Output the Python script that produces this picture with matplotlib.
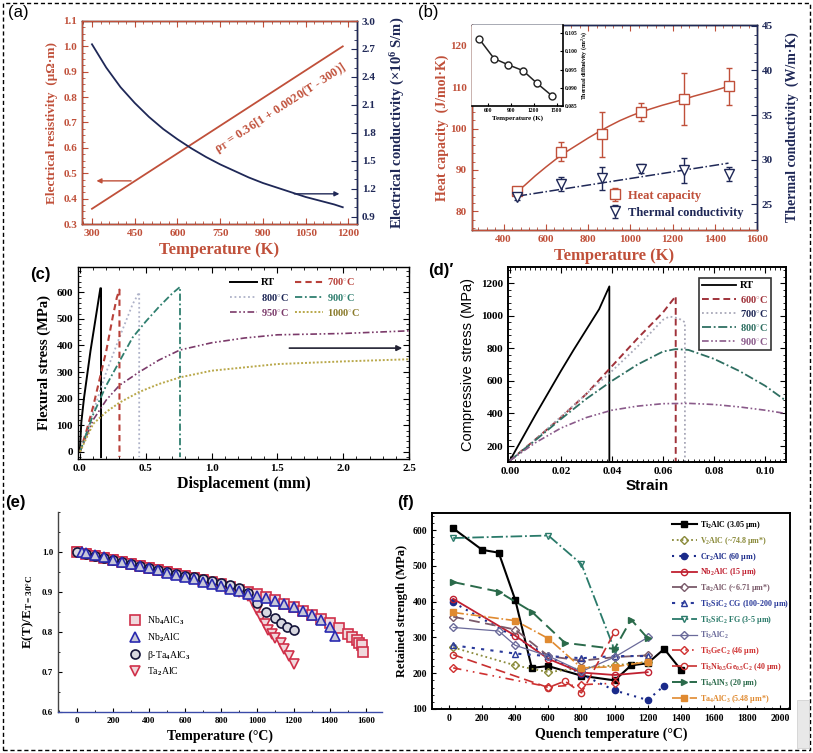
import matplotlib
matplotlib.use('Agg')
import matplotlib.pyplot as plt
from matplotlib.patches import Rectangle
from matplotlib.ticker import MultipleLocator
import warnings
warnings.filterwarnings('ignore')

W, H = 813, 753
RED = '#c0503a'
NAVY = '#1f2857'

# ---------------- data ----------------
# (a)
a_T_rho = [300, 1180]
a_rho = [0.36, 1.0]
a_T_sig = [300, 350, 400, 450, 500, 550, 600, 650, 700, 750, 800, 850, 900, 950,
           1000, 1050, 1100, 1150, 1180]
a_sig = [2.75, 2.50, 2.29, 2.12, 1.97, 1.84, 1.73, 1.63, 1.54, 1.46, 1.39, 1.32,
         1.26, 1.21, 1.16, 1.11, 1.07, 1.03, 1.00]
a_xticks = [300, 450, 600, 750, 900, 1050, 1200]

# (b)
b_T = [465, 670, 865, 1050, 1255, 1465]
b_cp = [84.8, 94.4, 98.6, 104.0, 107.2, 110.2]
b_cp_err = [0.6, 2.3, 5.4, 2.1, 6.3, 4.4]
b_fit_T = [465, 500, 550, 600, 650, 700, 750, 800, 850, 900, 950, 1000, 1050,
           1100, 1150, 1200, 1250, 1300, 1350, 1400, 1465]
b_fit_cp = [84.8, 86.3, 88.6, 90.7, 92.7, 94.5, 96.1, 97.7, 99.2, 100.6, 101.9,
            103.0, 104.0, 104.8, 105.6, 106.3, 107.0, 107.8, 108.5, 109.2, 110.2]
b_k = [25.8, 27.3, 27.9, 29.0, 28.8, 28.4]
b_k_err = [0.3, 0.8, 1.3, 0.5, 1.4, 0.8]
b_kfit_T = [465, 1465]
b_kfit = [25.9, 29.6]
b_in_T = [480, 680, 865, 1060, 1245, 1440]
b_in_D = [0.1035, 0.0980, 0.0963, 0.0947, 0.0912, 0.0878]
b_in_err = [0.0003, 0.0005, 0.0008, 0.0008, 0.0007, 0.0007]

# (c)
c_RT_x = [0, 0.01, 0.03, 0.08, 0.155, 0.16, 0.16]
c_RT_y = [10, 110, 200, 380, 615, 615, -20]
c_700_x = [0, 0.05, 0.1, 0.15, 0.2, 0.25, 0.28, 0.3, 0.3]
c_700_y = [0, 80, 170, 275, 380, 510, 580, 610, -20]
c_800_x = [0, 0.1, 0.2, 0.3, 0.4, 0.45, 0.45]
c_800_y = [0, 150, 300, 430, 555, 600, -20]
c_900_x = [0, 0.1, 0.2, 0.3, 0.4, 0.5, 0.6, 0.7, 0.76, 0.76]
c_900_y = [0, 140, 250, 340, 430, 490, 545, 595, 620, -20]
c_950_x = [0, 0.1, 0.2, 0.3, 0.45, 0.6, 0.76, 1.0, 1.25, 1.5, 2.0, 2.5]
c_950_y = [0, 120, 195, 250, 300, 345, 383, 410, 428, 440, 445, 455]
c_1000_x = [0, 0.1, 0.2, 0.3, 0.45, 0.6, 0.76, 1.0, 1.5, 2.0, 2.5]
c_1000_y = [0, 105, 150, 185, 225, 255, 280, 305, 330, 340, 348]

# (d)
d_RT_x = [0, 0.005, 0.01, 0.015, 0.02, 0.025, 0.03, 0.035, 0.039, 0.039]
d_RT_y = [110, 250, 390, 525, 660, 790, 915, 1040, 1180, 102]
d_600_x = [0, 0.01, 0.02, 0.03, 0.04, 0.05, 0.06, 0.065, 0.065]
d_600_y = [110, 240, 375, 520, 690, 860, 1020, 1120, 102]
d_700_x = [0, 0.01, 0.02, 0.03, 0.04, 0.05, 0.06, 0.0625, 0.066, 0.0686, 0.0686]
d_700_y = [110, 240, 380, 520, 660, 810, 975, 995, 985, 960, 102]
d_800_x = [0, 0.01, 0.02, 0.03, 0.04, 0.05, 0.06, 0.065, 0.07, 0.08, 0.09, 0.10, 0.108]
d_800_y = [110, 235, 365, 490, 600, 700, 780, 795, 790, 735, 660, 570, 480]
d_900_x = [0, 0.01, 0.02, 0.03, 0.04, 0.05, 0.06, 0.07, 0.08, 0.09, 0.10, 0.108]
d_900_y = [110, 220, 310, 375, 420, 445, 460, 462, 455, 440, 420, 400]

# (e)
e_nb4_T = [0, 50, 100, 150, 200, 250, 300, 350, 400, 450, 500, 550, 600, 650, 700,
           750, 800, 850, 900, 950, 1000, 1050, 1100, 1150, 1200, 1250, 1300, 1350,
           1400, 1450, 1500, 1525, 1550, 1565, 1580, 1585]
e_nb4_E = [1.000, 0.995, 0.990, 0.985, 0.980, 0.975, 0.970, 0.965, 0.960, 0.955,
           0.951, 0.946, 0.941, 0.936, 0.931, 0.925, 0.919, 0.913, 0.906, 0.900,
           0.894, 0.887, 0.879, 0.871, 0.862, 0.853, 0.843, 0.833, 0.822, 0.810,
           0.796, 0.788, 0.779, 0.772, 0.768, 0.751]
e_nb2_T = [30, 50, 100, 150, 200, 250, 300, 350, 400, 450, 500, 550, 600, 650, 700,
           750, 800, 850, 900, 950, 1000, 1050, 1100, 1150, 1200, 1250, 1300, 1350,
           1400, 1430]
e_nb2_E = [1.000, 0.997, 0.992, 0.987, 0.981, 0.976, 0.970, 0.965, 0.959, 0.954,
           0.948, 0.943, 0.937, 0.932, 0.926, 0.920, 0.914, 0.908, 0.902, 0.896,
           0.890, 0.884, 0.877, 0.870, 0.862, 0.853, 0.843, 0.830, 0.812, 0.790]
e_ta4_T = [0, 50, 100, 150, 200, 250, 300, 350, 400, 450, 500, 550, 600, 650, 700,
           750, 800, 850, 900, 950, 1000, 1050, 1100, 1130, 1165, 1200]
e_ta4_E = [1.000, 0.995, 0.990, 0.985, 0.980, 0.975, 0.970, 0.965, 0.960, 0.955,
           0.950, 0.945, 0.941, 0.937, 0.933, 0.928, 0.923, 0.917, 0.909, 0.898,
           0.872, 0.850, 0.836, 0.822, 0.813, 0.806]
e_ta2_T = [0, 50, 100, 150, 200, 250, 300, 350, 400, 450, 500, 550, 600, 650, 700,
           750, 800, 850, 900, 950, 975, 1000, 1020, 1040, 1060, 1080, 1100, 1130,
           1150, 1175, 1200]
e_ta2_E = [1.000, 0.995, 0.990, 0.985, 0.980, 0.975, 0.970, 0.965, 0.960, 0.955,
           0.950, 0.945, 0.940, 0.935, 0.929, 0.922, 0.915, 0.908, 0.900, 0.890,
           0.875, 0.856, 0.838, 0.820, 0.805, 0.795, 0.785, 0.772, 0.758, 0.740, 0.720]

# (f)
f_series = [
    ("Ti$_2$AlC (3.05 μm)", [25, 200, 300, 400, 500, 600, 800, 1000, 1100, 1200, 1300, 1400],
     [605, 545, 537, 405, 215, 220, 193, 180, 222, 228, 268, 210]),
    ("V$_2$AlC (~74.8 μm*)", [25, 400, 600, 800, 1000, 1200], [272, 222, 203, 215, 222, 232]),
    ("Cr$_2$AlC (60 μm)", [25, 800, 1000, 1200, 1300], [398, 197, 152, 125, 165]),
    ("Nb$_2$AlC (15 μm)", [25, 400, 600, 800, 1000, 1200], [408, 305, 240, 202, 195, 203]),
    ("Ta$_2$AlC (~6.71 μm*)", [25, 400, 600, 800, 1000, 1200], [358, 322, 248, 235, 245, 250]),
    ("Ti$_3$SiC$_2$ CG (100-200 μm)", [25, 400, 600, 800, 1000, 1200], [278, 255, 248, 242, 248, 248]),
    ("Ti$_3$SiC$_2$ FG (3-5 μm)", [25, 600, 800, 1000], [578, 585, 505, 265]),
    ("Ti$_3$AlC$_2$", [25, 300, 400, 600, 800, 1000, 1200], [328, 318, 278, 248, 205, 245, 300]),
    ("Ti$_3$GeC$_2$ (46 μm)", [25, 600, 800, 1000], [215, 162, 168, 172]),
    ("Ti$_3$Ni$_{0.5}$Ge$_{0.5}$C$_2$ (40 μm)", [25, 600, 700, 800, 1000], [252, 160, 178, 145, 315]),
    ("Ti$_4$AlN$_3$ (20 μm)", [25, 300, 500, 700, 1000, 1100, 1200], [455, 428, 372, 285, 268, 350, 298]),
    ("Ta$_4$AlC$_3$ (5.48 μm*)", [25, 400, 600, 800, 1000, 1200], [370, 347, 297, 215, 218, 232]),
]
f_styles = [
    dict(color='black', ls='-', marker='s', mfc='black', lw=1.5),
    dict(color='#8a8a3a', ls=':', marker='D', mfc='none', lw=1.3),
    dict(color='#1a2a8a', ls=(0, (1, 2.5)), marker='o', mfc='#1a2a8a', lw=1.5),
    dict(color='#c02030', ls='-', marker='o', mfc='none', lw=1.3),
    dict(color='#7a5a6a', ls=(0, (6, 3)), marker='D', mfc='none', lw=1.3),
    dict(color='#2a3a9a', ls=(0, (1.5, 3)), marker='^', mfc='none', lw=1.5),
    dict(color='#2a7a6a', ls='-.', marker='v', mfc='none', lw=1.3),
    dict(color='#6a6a9a', ls='-', marker='D', mfc='none', lw=0.9),
    dict(color='#d03030', ls=(0, (5, 3, 1, 3, 1, 3)), marker='D', mfc='none', lw=1.2),
    dict(color='#c83030', ls=(0, (6, 3)), marker='o', mfc='none', lw=1.2),
    dict(color='#2a6a4a', ls=(0, (6, 3)), marker='>', mfc='#2a6a4a', lw=1.4),
    dict(color='#e08a30', ls='-.', marker='s', mfc='#e08a30', lw=1.2),
]

# ---------------- style ----------------
plt.rcParams.update({
    'font.family': ['Liberation Serif', 'DejaVu Serif'],
    'font.weight': 'bold',
    'axes.labelweight': 'bold',
    'mathtext.fontset': 'custom',
    'mathtext.rm': 'Liberation Serif:bold',
    'mathtext.it': 'Liberation Serif:italic:bold',
    'mathtext.bf': 'Liberation Serif:bold',
    'mathtext.default': 'rm',
    'xtick.direction': 'in', 'ytick.direction': 'in',
    'axes.linewidth': 1.0,
})

fig = plt.figure(figsize=(W / 100, H / 100), dpi=100)


def px_axes(l, t, r, b):
    return fig.add_axes([l / W, 1 - b / H, (r - l) / W, (b - t) / H])


def px_text(x, y, s, **kw):
    fig.text(x / W, 1 - y / H, s, **kw)


# ---------------- (a) ----------------
axa = px_axes(82, 21, 357, 224)
axa2 = axa.twinx()
axa.plot(a_T_rho, a_rho, color=RED, lw=1.3)
axa2.plot(a_T_sig, a_sig, color=NAVY, lw=1.3)
axa.set_xlim(265, 1230)
axa.set_ylim(0.3, 1.1)
axa2.set_ylim(0.82, 3.0)
axa.set_xticks(a_xticks)
axa.xaxis.set_minor_locator(MultipleLocator(30))
axa.yaxis.set_major_locator(MultipleLocator(0.1))
axa.yaxis.set_minor_locator(MultipleLocator(0.025))
axa2.yaxis.set_major_locator(MultipleLocator(0.3))
axa2.yaxis.set_minor_locator(MultipleLocator(0.1))
axa.tick_params(axis='both', which='both', top=True, colors=RED, labelsize=8)
axa.tick_params(which='major', length=4)
axa.tick_params(which='minor', length=2)
axa2.tick_params(axis='y', which='both', colors=NAVY, labelsize=8)
axa2.tick_params(which='major', length=4)
axa2.tick_params(which='minor', length=2)
for sp in ['left', 'bottom', 'top']:
    axa2.spines[sp].set_color(RED)
axa2.spines['right'].set_color(NAVY)
axa.set_xlabel('Temperature (K)', color=RED, fontsize=12, labelpad=3)
axa.set_ylabel('Electrical resistivity  (μΩ·m)', color=RED, fontsize=9.5, labelpad=4)
axa2.set_ylabel('Electrical conductivity (×10$^6$ S/m)', color=NAVY, fontsize=10.5, labelpad=9)
axa.annotate('', xy=(306, 0.47), xytext=(447, 0.47),
             arrowprops=dict(arrowstyle='-|>', color=RED, lw=1, mutation_scale=7))
axa2.annotate('', xy=(1178, 1.144), xytext=(1000, 1.144),
              arrowprops=dict(arrowstyle='-|>', color=NAVY, lw=1, mutation_scale=7))
axa.text(960, 0.755, r'$\rho_T$ = 0.36[1 + 0.0020($T$ - 300)]', rotation=33,
         color=RED, fontsize=8.8, ha='center', va='center')
px_text(8, 13, '(a)', fontsize=12, family='Liberation Sans', weight='normal', va='center')

# ---------------- (b) ----------------
axb = px_axes(472, 25, 757, 230)
axb2 = axb.twinx()
axb.plot(b_fit_T, b_fit_cp, color=RED, lw=1.1)
axb.errorbar(b_T, b_cp, yerr=b_cp_err, fmt='s', color=RED, mfc='white', mec=RED,
             ms=7, capsize=2.5, elinewidth=1, label='Heat capacity')
axb2.plot(b_kfit_T, b_kfit, color=NAVY, lw=1.1, ls='-.')
axb2.errorbar(b_T, b_k, yerr=b_k_err, fmt='v', color=NAVY, mfc='white', mec=NAVY,
              ms=7, capsize=2.5, elinewidth=1, label='Thermal conductivity')
axb.set_xlim(250, 1600)
axb.set_ylim(75.5, 125)
axb2.set_ylim(22.1, 45.1)
axb.xaxis.set_major_locator(MultipleLocator(200))
axb.xaxis.set_minor_locator(MultipleLocator(40))
axb.yaxis.set_major_locator(MultipleLocator(10))
axb.yaxis.set_minor_locator(MultipleLocator(2))
axb2.yaxis.set_major_locator(MultipleLocator(5))
axb2.yaxis.set_minor_locator(MultipleLocator(1))
axb.tick_params(axis='both', which='both', top=True, colors=RED, labelsize=8)
axb.tick_params(which='major', length=4)
axb.tick_params(which='minor', length=2)
axb2.tick_params(axis='y', which='both', colors=NAVY, labelsize=8)
axb2.tick_params(which='major', length=4)
axb2.tick_params(which='minor', length=2)
axb2.spines['left'].set_color(RED)
axb2.spines['bottom'].set_color(RED)
axb2.spines['top'].set_color(NAVY)
axb2.spines['right'].set_color(NAVY)
axb.set_xlabel('Temperature (K)', color=RED, fontsize=12, labelpad=3)
axb.set_ylabel('Heat capacity  (J/mol·K)', color=RED, fontsize=10, labelpad=1)
axb2.set_ylabel('Thermal conductivity  (W/m·K)', color=NAVY, fontsize=10, labelpad=9)
h1, l1 = axb.get_legend_handles_labels()
h2, l2 = axb2.get_legend_handles_labels()
legb = axb2.legend(h1 + h2, l1 + l2, loc='lower left', bbox_to_anchor=(0.43, 0.0),
                   frameon=False, fontsize=9, handletextpad=0.4, handlelength=1.4,
                   labelspacing=0.4)
for t, c in zip(legb.get_texts(), [RED, NAVY]):
    t.set_color(c)
px_text(418, 13, '(b)', fontsize=12, family='Liberation Sans', weight='normal', va='center')

# inset
axi = px_axes(472, 25, 563, 106)
axi.errorbar(b_in_T, b_in_D, yerr=b_in_err, fmt='o-', color='#222222', mfc='white',
             ms=5, lw=1.1, capsize=1.5, elinewidth=0.8)
axi.set_xlim(390, 1585)
axi.set_ylim(0.0856, 0.1072)
axi.set_xticks([600, 900, 1200, 1500])
axi.set_yticks([0.085, 0.090, 0.095, 0.100, 0.105])
axi.set_yticklabels(['0.085', '0.090', '0.095', '0.100', '0.105'])
axi.yaxis.tick_right()
axi.yaxis.set_label_position('right')
axi.tick_params(labelsize=4, length=2, pad=1.5)
axi.set_xlabel('Temperature (K)', fontsize=5, labelpad=1.5)
axi.set_ylabel('Thermal diffusivity (cm$^2$/s)', fontsize=4.2, labelpad=1)
for sp in axi.spines.values():
    sp.set_linewidth(1.2)
axi.spines['top'].set_visible(False)
axi.spines['left'].set_visible(False)

# ---------------- (c) ----------------
axc = px_axes(78, 267, 409, 459)
C700, C800, C900, C950, C1000 = '#b8413a', '#aeb2c8', '#2f7f6f', '#7b3a6a', '#b9a84a'
axc.plot(c_RT_x, c_RT_y, color='black', lw=1.4, label='RT')
axc.plot(c_800_x, c_800_y, color=C800, lw=1.3, ls=(0, (1, 1.5)), label='800$^{\\circ}$C')
axc.plot(c_950_x, c_950_y, color=C950, lw=1.2, ls=(0, (4, 1.5, 1, 1.5, 1, 1.5)), label='950$^{\\circ}$C')
axc.plot(c_700_x, c_700_y, color=C700, lw=1.5, ls=(0, (3, 2)), label='700$^{\\circ}$C')
axc.plot(c_900_x, c_900_y, color=C900, lw=1.3, ls=(0, (4, 1.5, 1, 1.5)), label='900$^{\\circ}$C')
axc.plot(c_1000_x, c_1000_y, color=C1000, lw=1.4, ls=(0, (1, 1)), label='1000$^{\\circ}$C')
axc.set_xlim(-0.015, 2.5)
axc.set_ylim(-27, 695)
axc.xaxis.set_major_locator(MultipleLocator(0.5))
axc.xaxis.set_minor_locator(MultipleLocator(0.1))
axc.yaxis.set_major_locator(MultipleLocator(100))
axc.yaxis.set_minor_locator(MultipleLocator(20))
axc.tick_params(which='both', top=True, right=True, labelsize=8)
axc.tick_params(which='major', length=4)
axc.tick_params(which='minor', length=2)
axc.set_xlabel('Displacement (mm)', fontsize=11.5, labelpad=2)
axc.set_ylabel('Flexural stress (MPa)', fontsize=10.5, labelpad=4)
axc.annotate('', xy=(2.47, 390), xytext=(1.57, 390),
             arrowprops=dict(arrowstyle='-|>', color='#222233', lw=1.2, mutation_scale=8))
legc = axc.legend(ncol=2, loc='upper left', bbox_to_anchor=(0.43, 1.0), frameon=False,
                  fontsize=7.5, handlelength=2.6, columnspacing=0.6, labelspacing=0.4,
                  handletextpad=0.4, markerfirst=True)
for t, c in zip(legc.get_texts(), ['black', NAVY, C950, C700, C900, '#8a7a2a']):
    t.set_color(c)
px_text(30, 274, '(c)', fontsize=12, family='Liberation Sans', weight='bold', va='center')

# ---------------- (d) ----------------
axd = px_axes(508, 267, 786, 462)
D600, D700, D800, D900 = '#a0323a', '#a8a8b8', '#2f6f62', '#8a5a8a'
axd.plot(d_RT_x, d_RT_y, color='black', lw=1.3, label='RT')
axd.plot(d_600_x, d_600_y, color=D600, lw=1.4, ls=(0, (3.5, 2)), label='600$^{\\circ}$C')
axd.plot(d_700_x, d_700_y, color=D700, lw=1.3, ls=(0, (1, 1.5)), label='700$^{\\circ}$C')
axd.plot(d_800_x, d_800_y, color=D800, lw=1.3, ls=(0, (5, 1.5, 1, 1.5)), label='800$^{\\circ}$C')
axd.plot(d_900_x, d_900_y, color=D900, lw=1.2, ls=(0, (4, 1.5, 1, 1.5, 1, 1.5)), label='900$^{\\circ}$C')
axd.set_xlim(-0.0007, 0.1082)
axd.set_ylim(102, 1299)
axd.xaxis.set_major_locator(MultipleLocator(0.02))
axd.xaxis.set_minor_locator(MultipleLocator(0.002))
axd.yaxis.set_major_locator(MultipleLocator(200))
axd.yaxis.set_minor_locator(MultipleLocator(40))
axd.tick_params(which='both', top=True, right=True, labelsize=8)
axd.tick_params(which='major', length=4)
axd.tick_params(which='minor', length=2)
for sp in axd.spines.values():
    sp.set_linewidth(1.4)
axd.set_xlabel('Strain', fontsize=11, family='Liberation Sans', labelpad=2)
axd.set_ylabel('Compressive stress (MPa)', fontsize=10.5,
               family=['Liberation Sans Narrow', 'Liberation Sans'], weight='normal', labelpad=4)
legd = axd.legend(loc='upper right', bbox_to_anchor=(0.965, 0.97), frameon=True, fancybox=False,
                  edgecolor='black', fontsize=7.5, handlelength=3.2, labelspacing=0.3,
                  handletextpad=0.4, borderpad=0.3)
legd.get_frame().set_linewidth(1.2)
for t, c in zip(legd.get_texts(), ['black', D600, NAVY, D800, D900]):
    t.set_color(c)
px_text(428, 271, "(d)′", fontsize=12, family='Liberation Sans', weight='bold', va='center')

# ---------------- (e) ----------------
axe = px_axes(58, 512, 382, 712)
ER, EB, EK = '#d0304a', '#2a2ab0', '#15153a'
axe.plot(e_ta2_T, e_ta2_E, 'v', color=ER, mfc='#f0d8dc', mec=ER, ms=7, mew=1.2, ls='none', label='Ta$_2$AlC')
axe.plot(e_nb4_T, e_nb4_E, 's', color=ER, mfc='#f0d8dc', mec=ER, ms=6.5, mew=1.2, ls='none', label='Nb$_4$AlC$_3$')
axe.plot(e_ta4_T, e_ta4_E, 'o', color=EK, mfc='#d8d8e0', mec=EK, ms=6.5, mew=1.2, ls='none', label='β-Ta$_4$AlC$_3$')
axe.plot(e_nb2_T, e_nb2_E, '^', color=EB, mfc='#c8c8d8', mec=EB, ms=7, mew=1.2, ls='none', label='Nb$_2$AlC')
axe.set_xlim(-104, 1690)
axe.set_ylim(0.6, 1.1)
axe.set_xticks(range(0, 1601, 200))
axe.xaxis.set_minor_locator(MultipleLocator(100))
axe.set_yticks([0.6, 0.7, 0.8, 0.9, 1.0])
axe.yaxis.set_minor_locator(MultipleLocator(0.05))
axe.tick_params(which='both', labelsize=6.5, length=3)
axe.tick_params(which='minor', length=1.5)
axe.spines['top'].set_visible(False)
axe.spines['right'].set_visible(False)
axe.spines['left'].set_color('#444444')
axe.spines['bottom'].set_color('#3a4aa8')
axe.set_xlabel('Temperature (°C)', fontsize=10, labelpad=3)
axe.set_ylabel('E(T)/E$_{\\mathrm{T=30°C}}$', fontsize=9.5, labelpad=4)
he, le = axe.get_legend_handles_labels()
order = [1, 3, 2, 0]
lege = axe.legend([he[i] for i in order], [le[i] for i in order], loc='upper left',
                  bbox_to_anchor=(0.18, 0.53), frameon=False,
                  handletextpad=0.3, labelspacing=0.45, prop={'weight': 'normal', 'size': 7})
px_text(5, 503, '(e)', fontsize=12, family='Liberation Sans', weight='bold', va='center')

# ---------------- (f) ----------------
axf = px_axes(432, 513, 790, 709)
for (lab, xs, ys), st in zip(f_series, f_styles):
    axf.plot(xs, ys, ls=st['ls'], color=st['color'], lw=st['lw'], marker=st['marker'],
             mfc=st['mfc'], mec=st['color'], ms=4.5, mew=1.0, label=lab)
axf.set_xlim(-103, 2060)
axf.set_ylim(100, 648)
axf.xaxis.set_major_locator(MultipleLocator(200))
axf.xaxis.set_minor_locator(MultipleLocator(50))
axf.yaxis.set_major_locator(MultipleLocator(100))
axf.yaxis.set_minor_locator(MultipleLocator(20))
axf.tick_params(which='both', labelsize=7, length=3)
axf.tick_params(which='minor', length=1.5)
for sp in axf.spines.values():
    sp.set_linewidth(1.4)
axf.set_xlabel('Quench temperature (°C)', fontsize=10, labelpad=3)
axf.set_ylabel('Retained strength (MPa)', fontsize=9, labelpad=3)
legf = axf.legend(loc='upper right', bbox_to_anchor=(1.01, 0.995), frameon=False,
                  fontsize=5.8, handlelength=3.2, labelspacing=0.48, handletextpad=0.3,
                  borderaxespad=0.2)
for t, st in zip(legf.get_texts(), f_styles):
    t.set_color(st['color'])
px_text(397, 503, '(f)', fontsize=12, family='Liberation Sans', weight='bold', va='center')

# ---------------- frame ----------------
fig.add_artist(Rectangle((3 / W, 3 / H), (W - 6) / W, (H - 6) / H, transform=fig.transFigure,
                         fill=False, ls=(0, (3, 2)), lw=1.0, ec='black'))
fig.add_artist(Rectangle((797 / W, 1 - 748 / H), 12 / W, 48 / H, transform=fig.transFigure,
                         fill=True, fc='#e8e8e8', ec='#cccccc', lw=0.5))

fig.savefig('out.png', dpi=100)
